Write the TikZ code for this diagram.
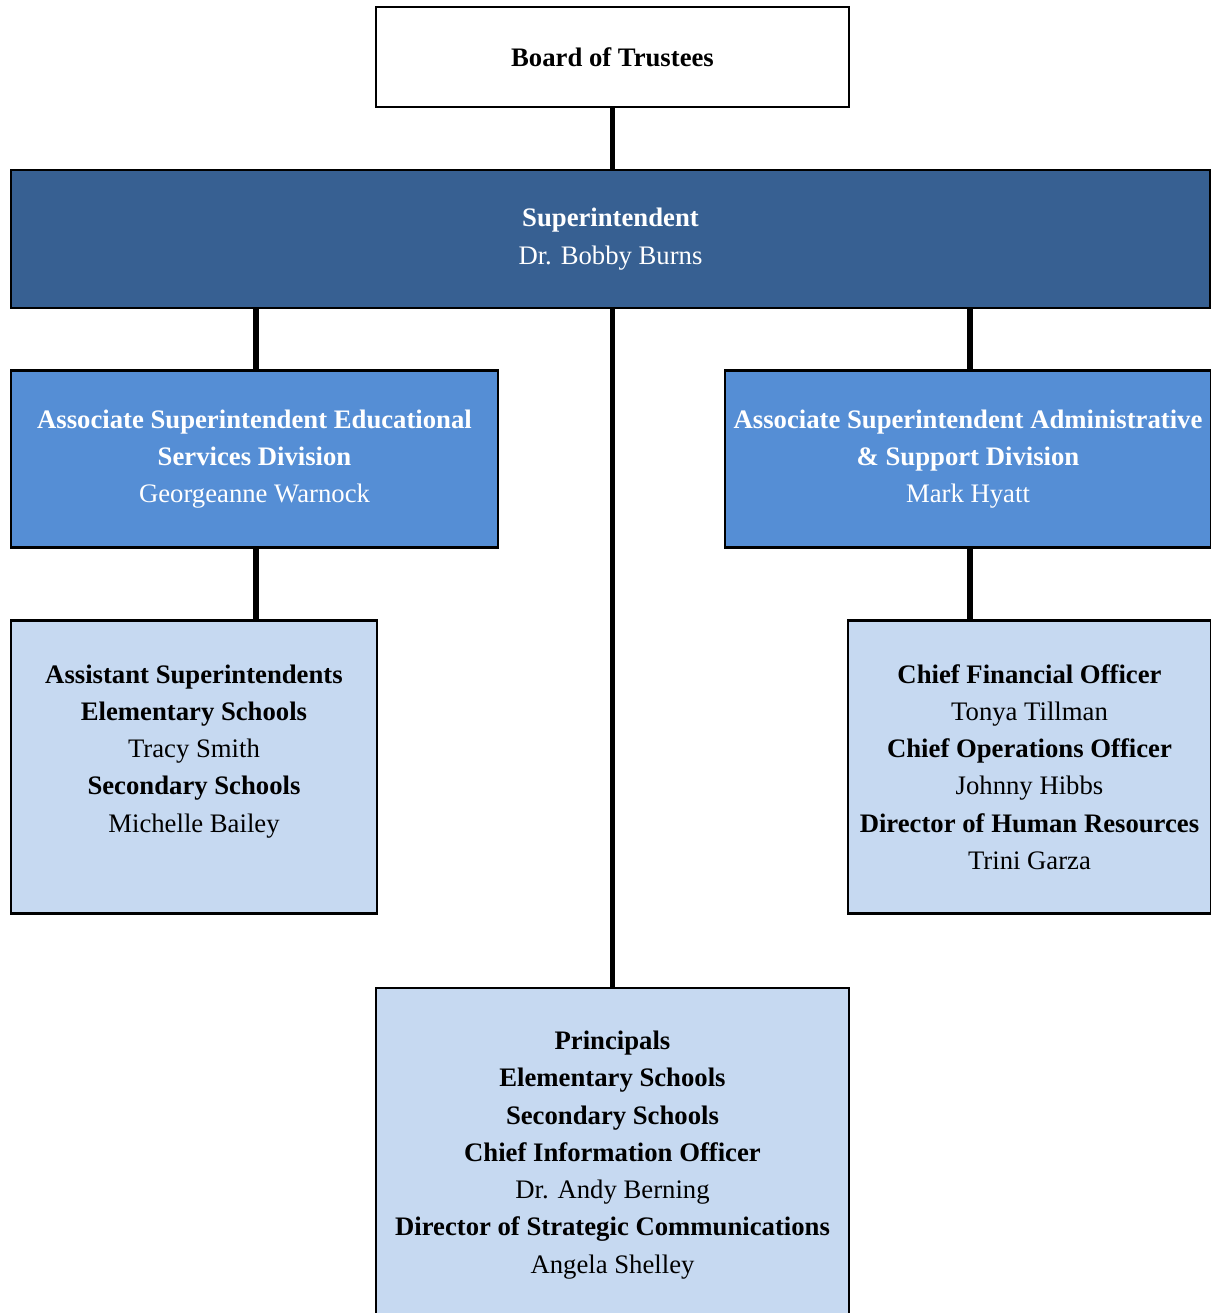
\documentclass[tikz,border=0pt]{standalone}
\usepackage{fontspec}
\setmainfont{Liberation Serif}
\usetikzlibrary{positioning}

\definecolor{supblue}{HTML}{376092}
\definecolor{midblue}{HTML}{558ED5}
\definecolor{paleblue}{HTML}{C6D9F1}

\def\wPage{1211}
\def\hPage{1313}

\tikzset{
  box/.style={draw=black, line width=1.4pt, inner sep=0pt, align=center,
    font=\fontsize{15.2}{21.2}\selectfont},
  topbox/.style={box, fill=white},
  supbox/.style={box, fill=supblue, text=white},
  divbox/.style={box, fill=midblue, text=white},
  staffbox/.style={box, fill=paleblue, text=black},
  link/.style={line width=3.4pt}
}

\begin{document}
\begin{tikzpicture}[x=0.02cm, y=-0.02cm]
        \useasboundingbox (0,0) rectangle (\wPage,\hPage);
        \clip (0,0) rectangle (\wPage,\hPage);
        \fill[white] (0,0) rectangle (\wPage,\hPage);
        % boxes
        \node[topbox, minimum width=9.46cm, minimum height=2cm] (board) at (612.5,57) {\textbf{Board of Trustees}};
        \node[supbox, minimum width=23.98cm, minimum height=2.76cm] (supt) at (610.5,239) {\textbf{Superintendent}\\Dr. Bobby Burns};
        \node[divbox, minimum width=9.74cm, minimum height=3.54cm] (eddiv) at (254.5,459) {\textbf{Associate Superintendent Educational}\\\textbf{Services Division}\\Georgeanne Warnock};
        \node[divbox, minimum width=9.72cm, minimum height=3.54cm] (admdiv) at (968,459) {\textbf{Associate Superintendent Administrative}\\\textbf{\& Support Division}\\Mark Hyatt};
        \node[staffbox, minimum width=7.32cm, minimum height=5.86cm] (asst) at (194,767) {\textbf{Assistant Superintendents}\\\textbf{Elementary Schools}\\Tracy Smith\\\textbf{Secondary Schools}\\Michelle Bailey\\\mbox{}};
        \node[staffbox, minimum width=7.26cm, minimum height=5.86cm] (cfo) at (1029.5,767) {\textbf{Chief Financial Officer}\\Tonya Tillman\\\textbf{Chief Operations Officer}\\Johnny Hibbs\\\textbf{Director of Human Resources}\\Trini Garza};
        \node[staffbox, minimum width=9.46cm, minimum height=6.68cm] (princ) at (612.5,1155) {\textbf{Principals}\\\textbf{Elementary Schools}\\\textbf{Secondary Schools}\\\textbf{Chief Information Officer}\\Dr. Andy Berning\\\textbf{Director of Strategic Communications}\\Angela Shelley};
        % connectors
        \draw[link] (board.south) -- (board.south |- supt.north);
        \draw[link] (supt.south -| princ.north) -- (princ.north);
        \draw[link] (256,307) coordinate (edtop) -- (edtop |- eddiv.north);
        \draw[link] (970,307) coordinate (admtop) -- (admtop |- admdiv.north);
        \draw[link] (edtop |- eddiv.south) -- (edtop |- asst.north);
        \draw[link] (admtop |- admdiv.south) -- (admtop |- cfo.north);
\end{tikzpicture}
\end{document}
